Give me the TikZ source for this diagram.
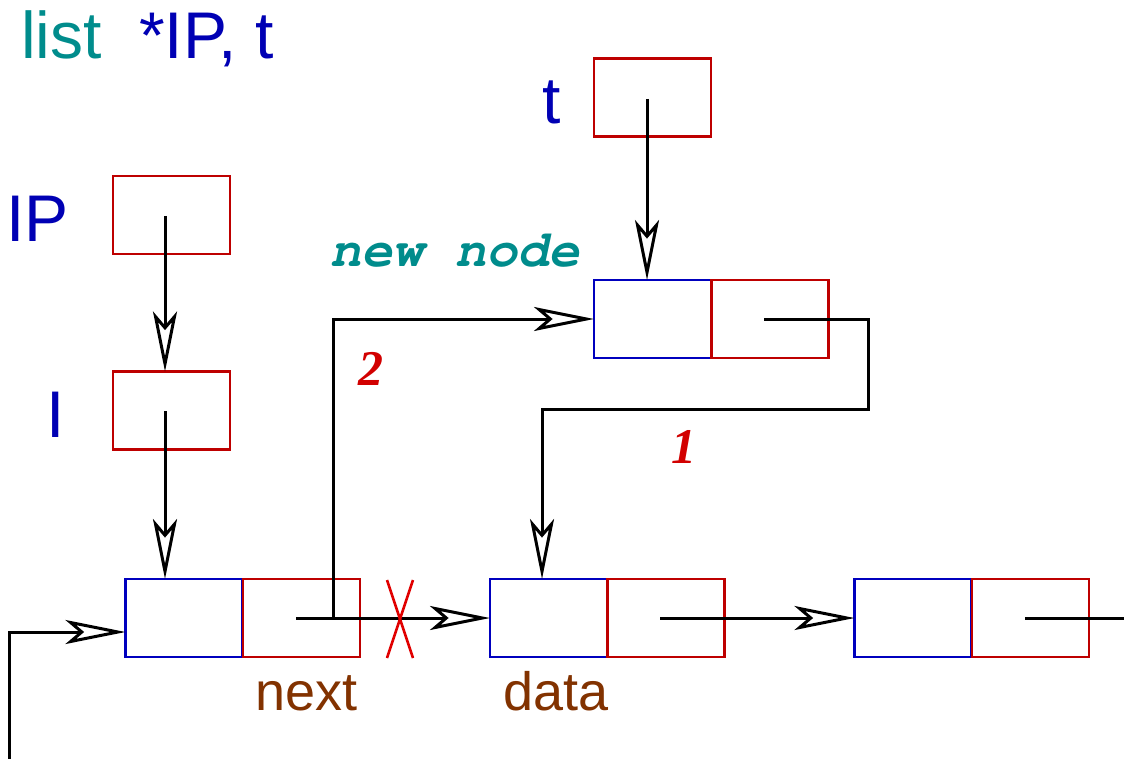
\documentclass[tikz,border=0pt]{standalone}
\usepackage{fontspec}
\setmainfont{Liberation Sans}
\newfontfamily\monofam{TeX Gyre Cursor}
\newfontfamily\seriffam{Liberation Serif}
\usetikzlibrary{arrows.meta,calc}
\definecolor{boxblue}{RGB}{0,0,190}
\definecolor{boxred}{RGB}{190,0,0}
\definecolor{tealc}{RGB}{0,140,140}
\definecolor{lblue}{RGB}{0,0,180}
\definecolor{brownc}{RGB}{130,50,0}
\definecolor{numred}{RGB}{210,0,0}
\definecolor{xred}{RGB}{225,0,0}
\tikzset{
  cell/.style={draw, line width=2.6pt, minimum width=117pt, minimum height=78pt, inner sep=0pt, outer sep=0pt},
  dcell/.style={cell, draw=boxblue},
  ncell/.style={cell, draw=boxred},
  ptr/.style={line width=3pt, black, -{Stealth[open, length=60pt, width=24pt, inset=14pt, fill=white]}},
  plain/.style={line width=3pt, black},
  biglbl/.style={anchor=base west, inner sep=0pt, text=lblue, font=\fontsize{66}{70}\selectfont},
  fieldlbl/.style={anchor=base west, inner sep=0pt, text=brownc, font=\fontsize{54}{60}\selectfont},
  numlbl/.style={anchor=base, inner sep=0pt, text=numred, font=\seriffam\bfseries\itshape\fontsize{50}{56}\selectfont},
  xmark/.style={line width=2.6pt, xred}
}
\begin{document}
\begin{tikzpicture}[x=1pt, y=-1pt]
\path[use as bounding box, fill=white] (0,0) rectangle (1124,759);

% title
\node[anchor=base west, inner sep=0pt, text=tealc, font=\fontsize{66}{70}\selectfont] (ttl1) at (21,59) {list};
\node[biglbl] (ttl2) at (139,59) {*IP, t};

% variable boxes
\node[ncell] (tbox) at (652.5,97.5) {};
\node[ncell] (ipbox) at (171.5,215) {};
\node[ncell] (ibox) at (171.5,410.5) {};
\node[biglbl] (tl) at (542,124) {t};
\node[biglbl] (ipl) at (6,242) {IP};
\node[biglbl] (il) at (46,437) {I};

% new node
\node[anchor=base west, inner sep=0pt, text=tealc, font=\monofam\bfseries\itshape\fontsize{52}{56}\selectfont] (nnl) at (330,267) {new node};
\node[dcell] (nd) at (652.5,319) {};
\node[ncell] (nn) at (770,319) {};

% list nodes
\node[dcell] (ad) at (184,618) {};
\node[ncell] (an) at (301.5,618) {};
\node[dcell] (bd) at (548.5,618) {};
\node[ncell] (bn) at (666,618) {};
\node[dcell] (cd) at (913,618) {};
\node[ncell] (cn) at (1030.5,618) {};

\node[fieldlbl] (nextl) at (255,710) {next};
\node[fieldlbl] (datal) at (503,710) {data};

\node[numlbl] (n2) at (371,385) {2};
\node[numlbl] (n1) at (684,463) {1};

% coordinates
\coordinate (tp) at (647,99);
\coordinate (ipp) at (165,216);
\coordinate (ip2) at (165,411);
\coordinate (np) at (764,319);
\coordinate (nr) at (868,409);
\coordinate (bdt) at (542,579);
\coordinate (ap) at (296,618);
\coordinate (k) at (333,618);
\coordinate (bp) at (660,618);
\coordinate (cp) at (1025,618);
\coordinate (cend) at (1126,618);
\coordinate (inb) at (9,761);

% pointers
\draw[ptr] (tp) -- (tp |- nd.north);
\draw[ptr] (ipp) -- (ipp |- ibox.north);
\draw[ptr] (ip2) -- (ip2 |- ad.north);
\draw[ptr] (np) -| (nr) -| (bdt);
\draw[ptr] (k) |- (nd.west);
\draw[ptr] (ap) -- (bd.west);
\draw[ptr] (bp) -- (cd.west);
\draw[plain] (cp) -- (cend);
\draw[ptr] (inb) |- ([yshift=-14pt]ad.west);

% cross
\draw[xmark] (387,580) -- (413,658);
\draw[xmark] (413,580) -- (387,658);
\end{tikzpicture}
\end{document}
